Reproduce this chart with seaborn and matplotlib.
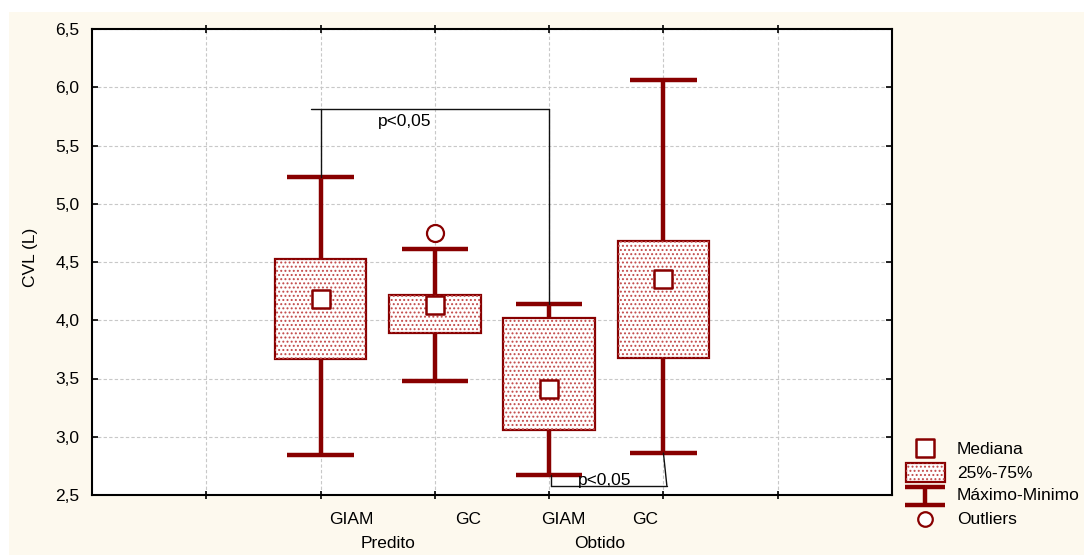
import numpy as np
import pandas as pd
import matplotlib
matplotlib.use('Agg')
import matplotlib.pyplot as plt
from matplotlib.patches import Rectangle
from matplotlib.transforms import blended_transform_factory
import seaborn as sns

# ---------------- data ----------------
groups = ['GIAM', 'GC', 'GIAM', 'GC']
conditions = ['Predito', 'Obtido']
minimum = [2.84, 3.48, 2.67, 2.86]
q1 = [3.67, 3.89, 3.06, 3.68]
median = [4.18, 4.13, 3.41, 4.35]
q3 = [4.53, 4.22, 4.02, 4.68]
maximum = [5.23, 4.61, 4.14, 6.06]
outlier_box = [1]          # index of the box with an outlier
outlier_value = [4.75]
yticks = [2.5, 3.0, 3.5, 4.0, 4.5, 5.0, 5.5, 6.0, 6.5]
ytick_labels = ['2,5', '3,0', '3,5', '4,0', '4,5', '5,0', '5,5', '6,0', '6,5']
ylabel = 'CVL (L)'
sig_label = 'p<0,05'
legend_labels = ['Mediana', '25%-75%', 'Máximo-Minimo', 'Outliers']

# ---------------- layout / style ----------------
positions = [2, 3, 4, 5]
label_pos = [2.27, 3.29, 4.12, 4.84]
cond_pos = [2.59, 4.44]
RED = '#880000'
HATCH = '#c24a4a'
CREAM = '#fdf9ee'
FS = 12.5

sns.set_style('white')
plt.rcParams['font.family'] = ['Liberation Sans', 'DejaVu Sans']
plt.rcParams['text.color'] = 'black'
plt.rcParams['xtick.color'] = 'black'
plt.rcParams['ytick.color'] = 'black'
plt.rcParams['hatch.linewidth'] = 0.9

fig = plt.figure(figsize=(10.84, 5.55), dpi=100, facecolor='white')

# background panel and legend layer (pixel coordinates)
bg = fig.add_axes([0, 0, 1, 1], zorder=-1)
bg.set_xlim(0, 1084)
bg.set_ylim(555, 0)
bg.axis('off')
bg.add_patch(Rectangle((9, 12), 1084 - 9, 555 - 12, facecolor=CREAM, edgecolor='none'))

ax = fig.add_axes([92 / 1084, 1 - 495 / 555, 800 / 1084, 466 / 555])
ax.set_facecolor('white')

# boxes, whiskers, caps
stats = [dict(whislo=a, q1=b, med=c, q3=d, whishi=e, fliers=[])
         for a, b, c, d, e in zip(minimum, q1, median, q3, maximum)]
ax.bxp(stats, positions=positions, widths=0.8, capwidths=0.58,
       patch_artist=True, showfliers=False, manage_ticks=False,
       boxprops=dict(facecolor='white', edgecolor=RED, linewidth=1.6),
       whiskerprops=dict(color=RED, linewidth=3.2, solid_capstyle='butt'),
       capprops=dict(color=RED, linewidth=3.2, solid_capstyle='butt'),
       medianprops=dict(linewidth=0))
for p, lo, hi in zip(positions, q1, q3):
    ax.add_patch(Rectangle((p - 0.4, lo), 0.8, hi - lo, facecolor='none',
                           edgecolor=HATCH, hatch='....', lw=0, zorder=2.5))

# medians
med_df = pd.DataFrame({'x': positions, 'y': median})
sns.scatterplot(data=med_df, x='x', y='y', marker='s', s=150, color='white',
                edgecolor=RED, linewidth=1.8, zorder=4, ax=ax, legend=False)
# outliers
out_df = pd.DataFrame({'x': [positions[i] for i in outlier_box], 'y': outlier_value})
sns.scatterplot(data=out_df, x='x', y='y', marker='o', s=150, color='white',
                edgecolor=RED, linewidth=1.6, zorder=4, ax=ax, legend=False)

# significance brackets
top = 5.81
ax.plot([1.92, positions[2]], [top, top], color='#111111', lw=1.0, zorder=3)
ax.plot([positions[0], positions[0]], [top, maximum[0]], color='#111111', lw=1.0, zorder=3)
ax.plot([positions[2], positions[2]], [top, maximum[2]], color='#111111', lw=1.0, zorder=3)
ax.text(2.74, 5.71, sig_label, ha='center', va='center', fontsize=FS, color='black')
bot = 2.58
ax.plot([4.02, 5.03], [bot, bot], color='#111111', lw=1.0, zorder=3)
ax.plot([4.02, 4.02], [bot, minimum[2]], color='#111111', lw=1.0, zorder=3)
ax.plot([5.03, positions[3]], [bot, minimum[3]], color='#111111', lw=1.0, zorder=3)
ax.text(4.49, 2.625, sig_label, ha='center', va='center', fontsize=FS, zorder=3, color='black')

# axes
ax.set_xlim(0, 7)
ax.set_ylim(2.5, 6.5)
ax.set_xticks([1, 2, 3, 4, 5, 6])
ax.set_xticklabels([])
ax.set_yticks(yticks)
ax.set_yticklabels(ytick_labels, fontsize=FS, color='black')
ax.set_xlabel('')
ax.set_ylabel('')
ax.grid(True, color='#c8c8c8', linestyle=(0, (3, 2)), linewidth=0.8)
ax.set_axisbelow(True)
for s in ax.spines.values():
    s.set_visible(True)
    s.set_color('black')
    s.set_linewidth(1.5)
ax.tick_params(axis='y', which='both', direction='in', length=4, width=1.2,
               left=True, right=True, pad=9, colors='black')
ax.tick_params(axis='x', which='both', direction='inout', length=6, width=1.2,
               bottom=True, top=True, colors='black')

tr = blended_transform_factory(ax.transData, fig.transFigure)
for xp, g in zip(label_pos, groups):
    fig.text(xp, 1 - 520 / 555, g, transform=tr, ha='center', va='center', fontsize=FS, color='black')
for xp, c in zip(cond_pos, conditions):
    fig.text(xp, 1 - 544 / 555, c, transform=tr, ha='center', va='center', fontsize=FS, color='black')
fig.text(30 / 1084, 1 - 257 / 555, ylabel, rotation=90, ha='center', va='center', fontsize=FS, color='black')

# legend (manual)
bg.scatter([925], [448], marker='s', s=150, facecolor='white', edgecolor=RED, linewidths=1.8)
bg.add_patch(Rectangle((906, 463), 39, 19, facecolor='white', edgecolor=RED, lw=1.6))
bg.add_patch(Rectangle((906, 463), 39, 19, facecolor='none', edgecolor=HATCH, hatch='....', lw=0))
bg.plot([905, 945], [487, 487], color=RED, lw=3.2, solid_capstyle='butt')
bg.plot([905, 945], [505, 505], color=RED, lw=3.2, solid_capstyle='butt')
bg.plot([925, 925], [487, 505], color=RED, lw=3.2, solid_capstyle='butt')
bg.scatter([925], [519], marker='o', s=110, facecolor='white', edgecolor=RED, linewidths=1.6)
for yy, t in zip([449, 473, 496, 519], legend_labels):
    bg.text(957, yy, t, ha='left', va='center', fontsize=FS, color='black')

fig.savefig('out.png', dpi=100, facecolor='white')
